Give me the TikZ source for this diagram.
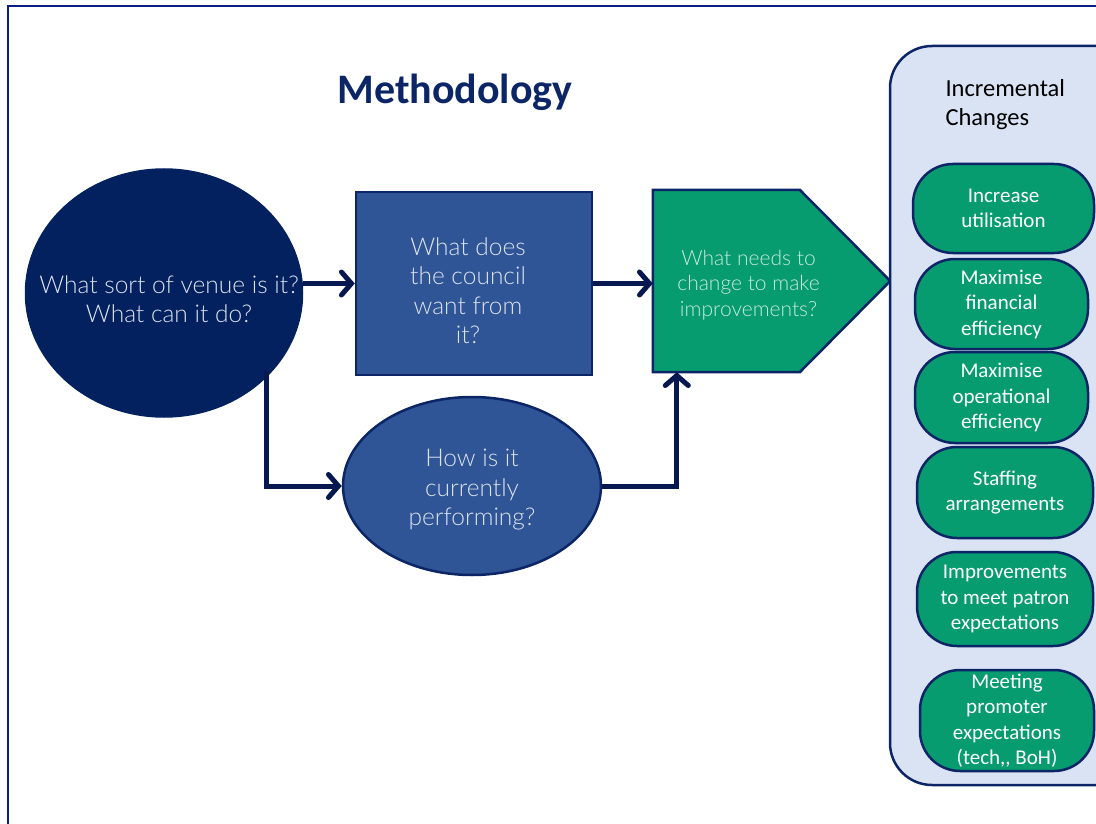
\documentclass[tikz,border=0pt]{standalone}
\usepackage{fontspec}
\setmainfont{Carlito}
\newfontfamily\lato{Lato Light}
\usetikzlibrary{arrows.meta,shapes.geometric}

\definecolor{deep}{HTML}{03215F}
\definecolor{navy}{HTML}{0B2566}
\definecolor{midblue}{HTML}{2F5597}
\definecolor{teal}{HTML}{079B70}
\definecolor{pale}{HTML}{DAE3F3}
\definecolor{paletext}{HTML}{DCE3EE}
\definecolor{mint}{HTML}{C8EADD}

\tikzset{
  qshape/.style={draw=navy, line width=2.5pt, inner sep=0pt},
  qtext/.style={align=center, text=paletext, font=\lato\fontsize{24.5}{29.5}\selectfont},
  pill/.style={draw=navy, fill=teal, line width=2.5pt, rounded corners=40pt,
    align=center, text=white, inner sep=0pt, font=\fontsize{21}{25.5}\selectfont},
  flow/.style={draw={rgb,255:red,7;green,24;blue,80}, line width=5pt,
    -{Straight Barb[length=10pt,width=23pt,line cap=round]}},
}

\begin{document}
\begin{tikzpicture}[x=1pt,y=-1pt]
  \useasboundingbox (0,0) rectangle (1096,824);
  \draw[navy!80!blue, line width=2pt] (1200,6) -- (8,6) -- (8,900); % page frame

  \node[font=\bfseries\fontsize{42}{48}\selectfont, text=navy] (title) at (455,92) {Methodology};

  % question shapes
  \node[qshape, ellipse, draw=deep, fill=deep, minimum width=276, minimum height=247] (venue) at (164,293) {};
  \node[qtext] at (169,299) {What sort of venue is it?\\What can it do?};
  \node[qshape, rectangle, fill=midblue, minimum width=236, minimum height=183] (council) at (474,283.5) {};
  \node[qtext] at (468,290.5) {What does\\the council\\want from\\it?};
  \node[qshape, ellipse, fill=midblue, minimum width=258, minimum height=178] (lowv) at (472,486) {};
  \node[qtext] at (472,490) {How is it\\currently\\performing?};

  % arrow-shaped box, tip to the right
  \node[minimum width=237, minimum height=182] (change) at (771.5,281) {};
  \draw[qshape, fill=teal] (change.north west) -- ([xshift=147pt]change.north west) -- (change.east)
    -- ([xshift=147pt]change.south west) -- (change.south west) -- cycle;
  \node[text=mint, align=center, font=\lato\fontsize{21}{25.5}\selectfont] at (748.5,285)
    {What needs to\\change to make\\improvements?};

  % connectors
  \draw[flow] (council.west -| venue.east) -- (council.west);
  \draw[flow] (council.east) -- (council.east -| change.west);
  \draw[flow] ([xshift=4pt,yshift=10pt]venue.south east) |- (lowv.west);
  \draw[flow] (lowv.east) -| ([xshift=24pt]change.south west);

  % incremental changes column
  \node[draw=navy, fill=pale, line width=2.5pt, rounded corners=42pt,
    minimum width=250, minimum height=739] (panel) at (1015,415.5) {};
  \node[anchor=west, align=left, font=\fontsize{24.5}{29}\selectfont] (ptitle) at (942,105)
    {Incremental\\Changes};

  \node[pill, minimum width=181, minimum height=89] (p1) at (1003.5,208.5) {Increase\\utilisation};
  \node[pill, minimum width=173, minimum height=90] (p2) at (1001.5,304) {Maximise\\financial\\efficiency};
  \node[pill, minimum width=173, minimum height=91] (p3) at (1001.5,397.5) {Maximise\\operational\\efficiency};
  \node[pill, minimum width=176, minimum height=91] (p4) at (1005,492.5) {Staffing\\arrangements};
  \node[pill, minimum width=176, minimum height=94] (p5) at (1005,599) {Improvements\\to meet patron\\expectations};
  \node[pill, minimum width=174, minimum height=101] (p6) at (1007,720.5) {Meeting\\promoter\\expectations\\(tech,{}, BoH)};
\end{tikzpicture}
\end{document}
